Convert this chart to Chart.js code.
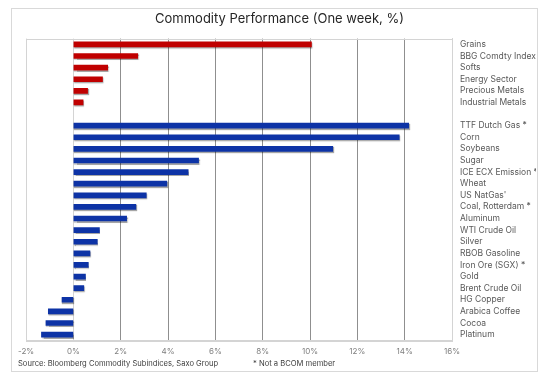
<!DOCTYPE html>
<html>
<head>
<meta charset="utf-8">
<script src="https://cdn.jsdelivr.net/npm/chart.js@4/dist/chart.umd.min.js"></script>
<style>
  body { margin: 0; background: #fff; font-family: Inter, "Noto Sans", sans-serif; }
  #frame { position: absolute; left: 11px; top: 8px; width: 525px; height: 362px; border: 1px solid #d9d9d9; }
  #wrap { position: absolute; left: 12px; top: 9px; width: 524px; height: 357px; }
  .note { position: absolute; top: 359px; font-size: 7.6px; color: #404040; white-space: nowrap; }
</style>
</head>
<body>
<div id="frame"></div>
<div id="wrap"><canvas id="chart"></canvas></div>
<div class="note" style="left:18px">Source: Bloomberg Commodity Subindices, Saxo Group</div>
<div class="note" style="left:253px">* Not a BCOM member</div>
<script>
// sector indices (red) and single commodities (blue), one week % change
const sectorNames = ['Grains', 'BBG Comdty Index', 'Softs', 'Energy Sector', 'Precious Metals', 'Industrial Metals'];
const sectorValues = [10.06, 2.72, 1.45, 1.23, 0.60, 0.41];

const commodityNames = ['TTF Dutch Gas *', 'Corn', 'Soybeans', 'Sugar', 'ICE ECX Emission *', 'Wheat',
    "US NatGas'", 'Coal, Rotterdam *', 'Aluminum', 'WTI Crude Oil', 'Silver', 'RBOB Gasoline',
    'Iron Ore (SGX) *', 'Gold', 'Brent Crude Oil', 'HG Copper', 'Arabica Coffee', 'Cocoa', 'Platinum'];
const commodityValues = [14.17, 13.77, 10.96, 5.29, 4.85, 3.95, 3.08, 2.64, 2.25, 1.10, 1.01, 0.70,
    0.63, 0.51, 0.44, -0.48, -1.06, -1.16, -1.35];

const xTicks = [-2, 0, 2, 4, 6, 8, 10, 12, 14, 16];

const labels = [...sectorNames, '', ...commodityNames];
const gap = new Array(commodityNames.length + 1).fill(null);

// light frame round the plot area + small shadow under bars
const plotFrame = {
    id: 'plotFrame',
    beforeDatasetsDraw(chart) {
        const { ctx, chartArea: a } = chart;
        ctx.save();
        ctx.strokeStyle = '#d4d4d4';
        ctx.lineWidth = 1;
        ctx.strokeRect(Math.round(a.left) + 0.5, Math.round(a.top) + 0.5, Math.round(a.right - a.left), Math.round(a.bottom - a.top));
        ctx.restore();
        ctx.save();
        ctx.shadowColor = 'rgba(0,0,0,0.35)';
        ctx.shadowOffsetY = 1.2;
        ctx.shadowOffsetX = 0.6;
        ctx.shadowBlur = 1;
    },
    afterDatasetsDraw(chart) {
        chart.ctx.restore();
    }
};

const ctx = document.getElementById('chart').getContext('2d');
new Chart(ctx, {
    type: 'bar',
    data: {
        labels: labels,
        datasets: [{
            data: [...sectorValues, ...gap],
            backgroundColor: '#c00000',
            barThickness: 5,
            grouped: false
        }, {
            data: [...new Array(sectorNames.length + 1).fill(null), ...commodityValues],
            backgroundColor: '#0d33a6',
            barThickness: 5,
            grouped: false
        }]
    },
    options: {
        indexAxis: 'y',
        responsive: true,
        maintainAspectRatio: false,
        animation: false,
        layout: { padding: { left: 11, right: 0, top: 0, bottom: 4 } },
        scales: {
            x: {
                min: -2,
                max: 16,
                afterBuildTicks(axis) { axis.ticks = xTicks.map(v => ({ value: v })); },
                grid: {
                    drawTicks: false,
                    color: c => (c.tick && c.tick.value <= 0) ? '#d4d4d4' : '#8f8f8f'
                },
                border: { display: true, color: '#d4d4d4' },
                ticks: {
                    padding: 6,
                    color: '#7f7f7f',
                    font: { family: 'Inter', size: 8 },
                    callback: v => v + '%'
                }
            },
            y: {
                position: 'right',
                grid: { display: false, drawTicks: false },
                border: { display: true, color: '#d4d4d4' },
                afterFit(axis) { axis.width = 84; },
                ticks: {
                    padding: 8,
                    autoSkip: false,
                    color: '#595959',
                    font: { family: 'Inter', size: 8.5 }
                }
            }
        },
        plugins: {
            legend: { display: false },
            tooltip: { enabled: false },
            title: {
                display: true,
                text: 'Commodity Performance (One week, %)',
                color: '#262626',
                font: { family: 'Inter', size: 13, weight: 'normal' },
                padding: { top: 2, bottom: 12 }
            }
        }
    },
    plugins: [plotFrame]
});
</script>
</body>
</html>
